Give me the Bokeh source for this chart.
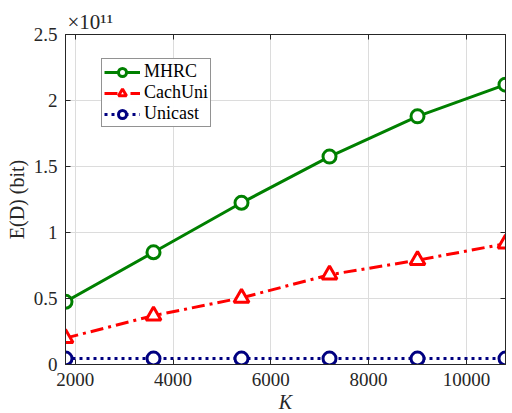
from bokeh.plotting import figure
from bokeh.models import (Legend, LegendItem, LinearAxis, Title, FixedTicker,
                          Range1d)
from bokeh.embed import file_html
from bokeh.resources import INLINE

# Number of users K
K = [1800, 3600, 5400, 7200, 9000, 10800]
# Expected delivery E(D) in units of 1e11 bit
mhrc = [0.475, 0.85, 1.225, 1.575, 1.88, 2.12]
cachuni = [0.20, 0.37, 0.505, 0.68, 0.79, 0.915]
unicast = [0.045, 0.045, 0.045, 0.045, 0.045, 0.045]

x_ticks = [2000, 4000, 6000, 8000, 10000]
y_ticks = [0, 0.5, 1, 1.5, 2, 2.5]
y_tick_labels = {0: "0", 0.5: "0.5", 1: "1", 1.5: "1.5", 2: "2", 2.5: "2.5"}

FONT = "Liberation Serif"
TICK_COLOR = "#262626"

p = figure(frame_width=440, frame_height=330, output_backend="svg",
           toolbar_location=None, x_range=Range1d(1800, 10800),
           y_range=Range1d(0, 2.5), min_border_left=65, min_border_right=7,
           min_border_top=34, min_border_bottom=49, background_fill_color="white",
           border_fill_color="white")

p.outline_line_color = TICK_COLOR
p.outline_line_width = 1

for ax in (p.xaxis[0], p.yaxis[0]):
    ax.major_tick_in = 5
    ax.major_tick_out = 0
    ax.minor_tick_line_color = None
    ax.axis_line_color = TICK_COLOR
    ax.major_tick_line_color = TICK_COLOR
    ax.major_label_text_font = FONT
    ax.major_label_text_font_size = "19px"
    ax.major_label_text_color = TICK_COLOR
    ax.axis_label_text_font = FONT
    ax.axis_label_text_font_size = "20px"
    ax.axis_label_text_color = TICK_COLOR

p.xaxis[0].ticker = FixedTicker(ticks=x_ticks)
p.yaxis[0].ticker = FixedTicker(ticks=y_ticks)
p.yaxis[0].major_label_overrides = y_tick_labels
p.xaxis[0].axis_label = "K"
p.xaxis[0].axis_label_text_font_style = "italic"
p.xaxis[0].axis_label_standoff = 2
p.xaxis[0].major_label_standoff = 8
p.yaxis[0].axis_label = "E(D) (bit)"
p.yaxis[0].axis_label_text_font_style = "normal"
p.yaxis[0].axis_label_standoff = 3
p.yaxis[0].major_label_standoff = 8

# mirrored tick marks on the top and right edges (no labels)
for side, ticks in (("above", x_ticks), ("right", y_ticks)):
    ax = LinearAxis(ticker=FixedTicker(ticks=ticks), major_label_text_color=None,
                    major_tick_in=5, major_tick_out=0, minor_tick_line_color=None,
                    axis_line_color=TICK_COLOR, major_tick_line_color=TICK_COLOR,
                    major_label_standoff=0, major_label_text_font_size="1px")
    p.add_layout(ax, side)

# exponent of the y axis, above its top end
p.add_layout(Title(text="×10¹¹", align="left", offset=2, text_font=FONT,
                   text_font_size="21px", text_font_style="normal",
                   text_color=TICK_COLOR, standoff=2), "above")

p.xgrid.ticker = FixedTicker(ticks=x_ticks)
p.ygrid.ticker = FixedTicker(ticks=y_ticks)
p.xgrid.grid_line_color = "#dcdcdc"
p.ygrid.grid_line_color = "#dcdcdc"

GREEN = "#008000"
RED = "#ff0000"
NAVY = "#000080"

l1 = p.line(K, mhrc, line_color=GREEN, line_width=3)
s1 = p.scatter(K, mhrc, marker="circle", size=13, fill_color="white",
               line_color=GREEN, line_width=3)
l2 = p.line(K, cachuni, line_color=RED, line_width=3, line_dash="13 5 3 5")
s2 = p.scatter(K, cachuni, marker="triangle", size=15, fill_color="white",
               line_color=RED, line_width=3)
l3 = p.line(K, unicast, line_color=NAVY, line_width=3, line_dash="3 4")
s3 = p.scatter(K, unicast, marker="circle", size=13, fill_color="white",
               line_color=NAVY, line_width=3)

legend = Legend(items=[LegendItem(label="MHRC", renderers=[l1, s1]),
                       LegendItem(label="CachUni", renderers=[l2, s2]),
                       LegendItem(label="Unicast", renderers=[l3, s3])],
                location=(36, 237), label_text_font=FONT,
                label_text_font_size="18px", label_text_color="black",
                border_line_color=TICK_COLOR, border_line_width=1,
                spacing=0, padding=2, margin=0, glyph_width=36,
                glyph_height=20, label_standoff=4, label_height=20)
p.add_layout(legend, "center")

open("out.html", "w").write(file_html(p, INLINE))
